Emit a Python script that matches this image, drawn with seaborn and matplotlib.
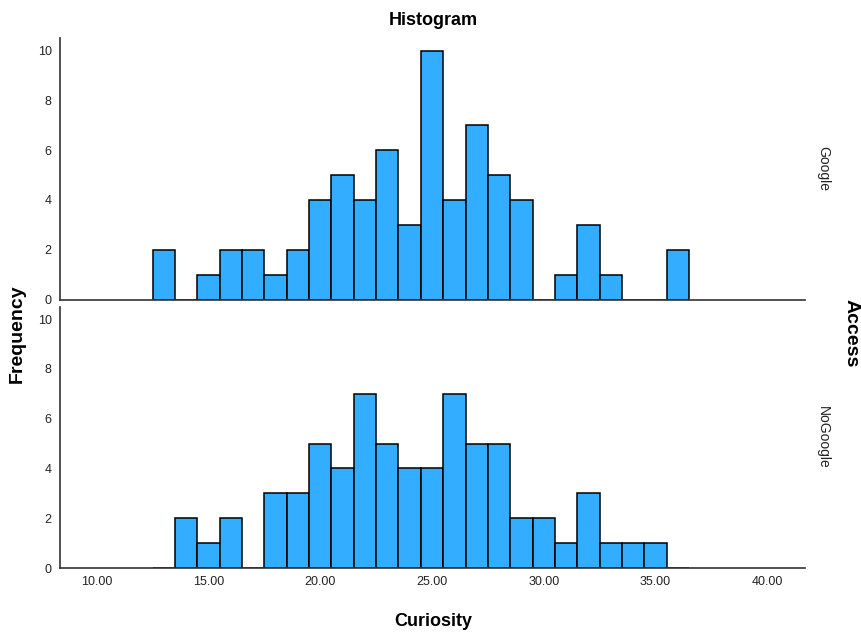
import numpy as np
import pandas as pd
import seaborn as sns
import matplotlib
matplotlib.use("Agg")
import matplotlib.pyplot as plt

# === Data (bin centres = Curiosity score, counts per bin) ===
google_scores = [13, 14, 15, 16, 17, 18, 19, 20, 21, 22, 23, 24, 25, 26, 27, 28, 29,
                 30, 31, 32, 33, 34, 35, 36]
google_counts = [2, 0, 1, 2, 2, 1, 2, 4, 5, 4, 6, 3, 10, 4, 7, 5, 4,
                 0, 1, 3, 1, 0, 0, 2]
nogoogle_scores = [14, 15, 16, 17, 18, 19, 20, 21, 22, 23, 24, 25, 26, 27, 28, 29,
                   30, 31, 32, 33, 34, 35]
nogoogle_counts = [2, 1, 2, 0, 3, 3, 5, 4, 7, 5, 4, 4, 7, 5, 5, 2,
                   2, 1, 3, 1, 1, 1]
groups = ["Google", "NoGoogle"]
x_ticks = [10, 15, 20, 25, 30, 35, 40]
y_ticks = [0, 2, 4, 6, 8, 10]

df = pd.concat([
    pd.DataFrame({"Curiosity": google_scores, "count": google_counts, "Access": "Google"}),
    pd.DataFrame({"Curiosity": nogoogle_scores, "count": nogoogle_counts, "Access": "NoGoogle"}),
])

sns.set_theme(style="white")
plt.rcParams["font.family"] = ["Liberation Sans", "DejaVu Sans"]

g = sns.FacetGrid(df, row="Access", row_order=groups, sharex=True, sharey=True,
                  height=3, aspect=2.5, despine=True)
g.map_dataframe(sns.histplot, x="Curiosity", weights="count", binwidth=1,
                binrange=(12.5, 36.5), color="#33adff", edgecolor="black",
                linewidth=1.1, alpha=1)
g.figure.set_size_inches(8.62, 6.35)
g.figure.subplots_adjust(left=0.0696, right=0.934, top=0.940, bottom=0.1055, hspace=0.027)

for ax, name in zip(g.axes.flat, groups):
    ax.set_title("")
    ax.set_xlim(8.35, 41.7)
    ax.set_ylim(0, 10.5)
    ax.set_yticks(y_ticks)
    ax.set_yticklabels([str(v) for v in y_ticks], fontsize=9, color="#222222")
    ax.set_ylabel("")
    ax.set_xlabel("")
    ax.tick_params(length=0, pad=6)
    for s in ["left", "bottom"]:
        ax.spines[s].set_color("#333333")
        ax.spines[s].set_linewidth(1.2)
    ax.text(1.015, 0.5, name, transform=ax.transAxes, rotation=-90,
            ha="left", va="center", fontsize=10, color="#222222")

bottom = g.axes.flat[-1]
bottom.set_xticks(x_ticks)
bottom.set_xticklabels([f"{v:.2f}" for v in x_ticks], fontsize=9, color="#222222")

fig = g.figure
fig.text(0.503, 0.968, "Histogram", ha="center", va="center", fontsize=13,
         fontweight="semibold", color="black")
fig.text(0.503, 0.022, "Curiosity", ha="center", va="center", fontsize=13,
         fontweight="bold", color="black")
fig.text(0.02, 0.475, "Frequency", ha="center", va="center", rotation=90,
         fontsize=14, fontweight="bold", color="black")
fig.text(0.987, 0.475, "Access", ha="center", va="center", rotation=-90,
         fontsize=14, fontweight="bold", color="black")

fig.savefig("out.png", dpi=100)
